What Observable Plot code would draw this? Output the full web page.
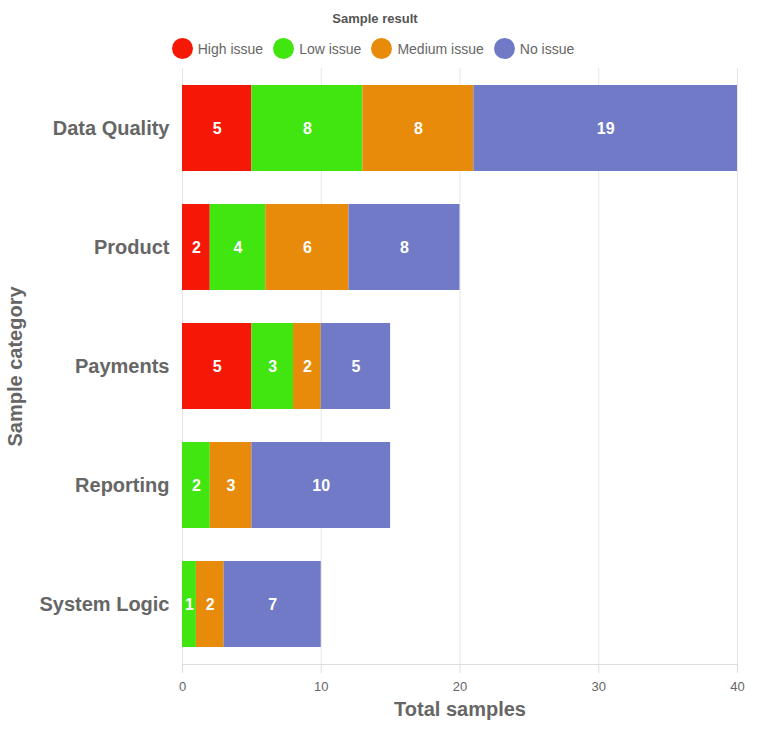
<!DOCTYPE html>
<html><head><meta charset="utf-8">
<script src="https://cdn.jsdelivr.net/npm/d3@7"></script>
<script src="https://cdn.jsdelivr.net/npm/@observablehq/plot@0.6"></script>
<style>
body{margin:0;background:#fff;font-family:"Liberation Sans",Arial,sans-serif;}
#legend{width:746px;height:62px;position:relative;}
#ltitle{position:absolute;top:11px;left:0;width:750px;text-align:center;font-size:13px;font-weight:bold;color:#555;}
#litems{position:absolute;top:38px;left:0;width:746px;display:flex;justify-content:center;gap:10px;}
.li{display:flex;align-items:center;font-size:14px;color:#666;}
.sw{width:21px;height:21px;border-radius:50%;margin-right:5px;}
</style></head><body>
<div id="legend"><div id="ltitle">Sample result</div><div id="litems"></div></div>
<div id="chart"></div>
<script>
const categories = ["Data Quality","Product","Payments","Reporting","System Logic"];
const series = ["High issue","Low issue","Medium issue","No issue"];
const colors = ["#f61806","#41e510","#e88b0a","#717ac6"];
const highIssue = [5,2,5,0,0];
const lowIssue = [8,4,3,2,1];
const mediumIssue = [8,6,2,3,2];
const noIssue = [19,8,5,10,7];
const xTicks = [0,10,20,30,40];

const values = [highIssue, lowIssue, mediumIssue, noIssue];
const data = [];
categories.forEach((c,i)=>series.forEach((s,j)=>data.push({category:c, series:s, value:values[j][i]})));

const li = document.getElementById("litems");
series.forEach((s,j)=>{
  const d=document.createElement("div");d.className="li";
  d.innerHTML=`<span class="sw" style="background:${colors[j]}"></span>${s}`;
  li.appendChild(d);
});

const chart = Plot.plot({
  width: 772, height: 670,
  marginTop: 6, marginBottom: 68, marginLeft: 182, marginRight: 35,
  style: {fontFamily: '"Liberation Sans",Arial,sans-serif', background: "#fff"},
  x: {domain: [0,40]},
  y: {domain: categories, paddingInner: 0.28, paddingOuter: 0.14},
  color: {domain: series, range: colors},
  marks: [
    Plot.gridX(xTicks, {stroke: "#e6e6e6", strokeOpacity: 1}),
    Plot.barX(data, Plot.stackX({x: "value", y: "category", fill: "series", z: "series"})),
    Plot.text(data, Plot.stackX({x: "value", y: "category", z: "series", text: d => d.value > 0 ? String(d.value) : "", fill: "white", fontWeight: "bold", fontSize: 16})),
    Plot.frame({anchor: "bottom", stroke: "#ddd"}),
    Plot.axisX({ticks: xTicks, tickSize: 9, stroke: "#ddd", tickPadding: 8, label: null, fontSize: 13, fill: "#666"}),
    Plot.axisY({tickSize: 0, tickPadding: 13, label: null, fontSize: 20, fontWeight: "bold", fill: "#666"}),
    Plot.text(["Total samples"], {frameAnchor: "bottom", dy: 51, fontSize: 20, fontWeight: "bold", fill: "#666"}),
    Plot.text(["Sample category"], {frameAnchor: "left", textAnchor: "middle", dx: -167, rotate: -90, fontSize: 20, fontWeight: "bold", fill: "#666"})
  ]
});
document.getElementById("chart").appendChild(chart);
</script>
</body></html>
